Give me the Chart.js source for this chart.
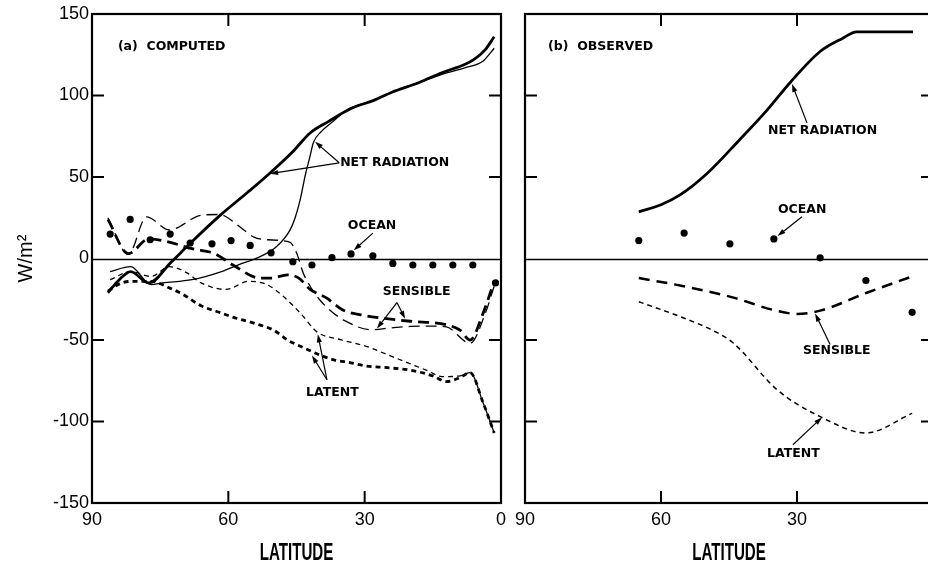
<!DOCTYPE html>
<html><head><meta charset="utf-8">
<script src="https://cdn.jsdelivr.net/npm/chart.js@4"></script>
<style>
html,body{margin:0;padding:0;overflow:hidden;background:#fff;width:928px;height:567px;}
#ca{position:absolute;left:0;top:0;}
#cb{position:absolute;left:505px;top:0;}
</style></head><body>
<canvas id="ca" width="520" height="567"></canvas>
<canvas id="cb" width="455" height="567"></canvas>
<script>
// ---------- axis ticks ----------
const latTicks = [90, 60, 30, 0];
const fluxTicks = [-150, -100, -50, 0, 50, 100, 150];
const innerLatTicks = [60, 30];
const innerFluxTicks = [100, 50, -50, -100];
const xTitle = 'LATITUDE';
const yTitle = 'W/m²';

// ---------- (a) COMPUTED ----------
const netRadA_lat = [86.5, 84, 81.5, 77.5, 72.5, 68.5, 62, 56, 51, 46, 42, 38, 33, 28, 24, 18, 13, 8, 6, 3.5, 1.5];
const netRadA_val = [-21, -13, -8, -15, -2, 9, 26, 40, 52, 65, 77, 84, 92, 97, 102, 108, 114, 119, 122, 128, 136];

const netRadB_lat = [86, 81.5, 77, 74.5, 68, 61.5, 57, 53.5, 49.5, 46.4, 45.3, 44.2, 43, 42, 41.3, 39.5, 37, 34, 28, 24, 18, 13, 8, 4, 1.5];
const netRadB_val = [-8, -5, -16, -15, -13, -8, -3, 0.5, 7, 17.6, 25, 36, 52, 63, 71, 78, 84, 91, 97, 102, 108, 113, 117, 121, 129];

const sensA_lat = [86.5, 82, 77.5, 73, 68, 63, 59, 53, 50.5, 47, 44.5, 42, 38.5, 34.8, 30, 26, 20, 12, 9, 6.8, 4, 1.5];
const sensA_val = [24, 3, 12, 10, 6, 3, -4, -12, -12, -10, -12, -19, -24, -31.6, -35, -36.6, -38.5, -40.7, -44, -50, -34, -14];

const sensB_lat = [86.5, 82, 78, 73, 66, 62, 57.5, 54.5, 51.5, 46.5, 45, 43.5, 42, 40, 37.5, 34.5, 28.5, 24, 20, 15, 12, 6.8, 3.5, 1.5];
const sensB_val = [25, 2.5, 25.5, 17.5, 26.5, 27, 19.5, 13.3, 11.5, 10, 3.5, -9, -17, -25, -32, -38, -43.7, -42.5, -41.7, -41.5, -42, -52, -34, -17];

const latentA_lat = [86.5, 83.5, 80.5, 77, 73, 70, 66, 62, 59, 54, 50, 47, 44, 40, 37, 33, 29.5, 25, 20, 15, 12, 9, 6.8, 4, 1.5];
const latentA_val = [-20, -15, -14, -14, -18, -22, -29, -33, -36, -40, -44, -50, -54, -59, -62, -64, -66, -67, -68.5, -72, -75.5, -73, -70, -88, -107];

const latentB_lat = [86, 81.5, 77, 73, 69, 66, 60.5, 55.5, 51.5, 48, 44, 40.5, 35, 29.5, 25, 20.5, 16, 13, 9, 6.8, 4, 1.5];
const latentB_val = [-13, -8, -11, -5, -9, -15, -19, -14, -16, -23, -34, -45, -50, -54, -59, -64, -69, -72.5, -72, -70, -88, -107];

const oceanA_lat = [86, 81.6, 77.2, 72.8, 68.4, 63.6, 59.4, 55.2, 50.6, 45.8, 41.6, 37.2, 33, 28.2, 23.8, 19.4, 15, 10.6, 6.2, 1.2];
const oceanA_val = [15, 24, 11.5, 15, 9.5, 9, 11, 8, 3.5, -2, -4, 0.5, 2.8, 1.7, -3, -4, -4, -4, -4, -15];

// ---------- (b) OBSERVED ----------
const netObs_lat = [64.9, 60, 55.8, 49.9, 42.6, 36.6, 31.5, 24.9, 20, 16.8, 10, 4.4];
const netObs_val = [28.6, 33, 39, 52, 73, 91, 108, 127, 135, 139, 139, 139];

const oceanObs_lat = [64.9, 54.9, 44.8, 35.1, 24.9, 14.8, 4.6];
const oceanObs_val = [11, 15.6, 9, 12, 0.4, -13.5, -33];

const sensObs_lat = [64.9, 55, 44, 35.3, 30, 24.9, 14.6, 4.6];
const sensObs_val = [-12, -17, -24, -31.5, -34, -32, -21, -11];

const latentObs_lat = [64.9, 55, 47.6, 44, 34.4, 24.9, 14.8, 4.6];
const latentObs_val = [-26.5, -36.5, -45.5, -52, -80.5, -97, -107, -95];

// ---------- annotation texts (data coordinates: lat, value) ----------
const notesA = [
  {text: '(a)  COMPUTED', at: [84.3, 130], arrows: []},
  {text: 'NET RADIATION', at: [35.4, 58.7], arrows: [[35.6, 58.7, 50.8, 52], [35.6, 58.7, 40.9, 71.6]]},
  {text: 'OCEAN', at: [33.7, 20], arrows: [[28.2, 15.6, 32.4, 5]]},
  {text: 'SENSIBLE', at: [26, -20.5], arrows: [[22.9, -27, 27.3, -43], [22.9, -27, 21.1, -37]]},
  {text: 'LATENT', at: [42.9, -82.4], arrows: [[38.3, -74.4, 41.6, -59.5], [38.3, -74.4, 40.3, -46.5]]}
];
const notesB = [
  {text: '(b)  OBSERVED', at: [84.9, 130], arrows: []},
  {text: 'NET RADIATION', at: [36.4, 78.3], arrows: [[27.8, 83.2, 31.1, 107]]},
  {text: 'OCEAN', at: [34.2, 29.9], arrows: [[28.9, 25.6, 34.3, 13.8]]},
  {text: 'SENSIBLE', at: [28.7, -56.6], arrows: [[22.7, -52.8, 26, -33.8]]},
  {text: 'LATENT', at: [36.6, -119.8], arrows: [[30.9, -114.3, 24.5, -97.5]]}
];

function pts(lat, val) { return lat.map((l, i) => ({x: l, y: val[i]})); }

const STY = {
  thickSolid: {borderWidth: 2.8, borderDash: []},
  thinSolid: {borderWidth: 1.3, borderDash: []},
  thickLong: {borderWidth: 2.8, borderDash: [11, 6]},
  thinLong: {borderWidth: 1.3, borderDash: [11, 6]},
  thickShort: {borderWidth: 2.8, borderDash: [5, 4]},
  thinShort: {borderWidth: 1.3, borderDash: [5, 4]},
  obsLong: {borderWidth: 2.5, borderDash: [11, 7]},
  obsShort: {borderWidth: 1.5, borderDash: [5, 4]}
};

function lineDS(label, lat, val, sty) {
  return Object.assign({
    label, data: pts(lat, val), borderColor: '#000', backgroundColor: '#000',
    pointRadius: 0, fill: false, cubicInterpolationMode: 'monotone'
  }, sty);
}
function dotDS(label, lat, val) {
  return {label, data: pts(lat, val), showLine: false, pointRadius: 3.6,
    pointBackgroundColor: '#000', pointBorderColor: '#000', pointBorderWidth: 0};
}

const deco = {
  id: 'deco',
  beforeDatasetsDraw(chart) {
    const {ctx, chartArea: ca, scales: {y}} = chart;
    ctx.save();
    ctx.strokeStyle = '#000'; ctx.lineWidth = 1.5;
    const y0 = Math.round(y.getPixelForValue(0)) + 0.5;
    ctx.beginPath(); ctx.moveTo(ca.left, y0); ctx.lineTo(ca.right, y0); ctx.stroke();
    ctx.restore();
  },
  afterDatasetsDraw(chart, args, o) {
    const {ctx, chartArea: ca, scales: {x, y}} = chart;
    ctx.save();
    ctx.strokeStyle = '#000'; ctx.fillStyle = '#000';
    ctx.lineWidth = 2.2;
    ctx.strokeRect(ca.left, ca.top, ca.right - ca.left, ca.bottom - ca.top);
    const L = 12;
    ctx.lineWidth = 2;
    ctx.beginPath();
    innerFluxTicks.forEach(v => {
      const p = y.getPixelForValue(v);
      ctx.moveTo(ca.left, p); ctx.lineTo(ca.left + L, p);
      ctx.moveTo(ca.right, p); ctx.lineTo(ca.right - L, p);
    });
    innerLatTicks.forEach(v => {
      const p = x.getPixelForValue(v);
      ctx.moveTo(p, ca.top); ctx.lineTo(p, ca.top + L);
      ctx.moveTo(p, ca.bottom); ctx.lineTo(p, ca.bottom - L);
    });
    ctx.stroke();
    // condensed axis title under the x axis
    ctx.save();
    ctx.font = 'bold 24px "Liberation Sans", Arial, sans-serif';
    ctx.textAlign = 'center'; ctx.textBaseline = 'middle';
    ctx.translate((x.left + x.right) / 2, ca.bottom + 50);
    ctx.scale(0.63, 1);
    ctx.fillText(xTitle, 0, 0);
    ctx.restore();
    // annotations
    ctx.font = 'bold 12.5px "DejaVu Sans", sans-serif';
    ctx.textBaseline = 'middle'; ctx.textAlign = 'left';
    (o.notes || []).forEach(n => {
      ctx.fillText(n.text, x.getPixelForValue(n.at[0]), y.getPixelForValue(n.at[1]));
      n.arrows.forEach(a => {
        const x1 = x.getPixelForValue(a[0]), y1 = y.getPixelForValue(a[1]);
        const x2 = x.getPixelForValue(a[2]), y2 = y.getPixelForValue(a[3]);
        const ang = Math.atan2(y2 - y1, x2 - x1);
        ctx.lineWidth = 1.2;
        ctx.beginPath(); ctx.moveTo(x1, y1); ctx.lineTo(x2 - 5 * Math.cos(ang), y2 - 5 * Math.sin(ang)); ctx.stroke();
        ctx.beginPath();
        ctx.moveTo(x2, y2);
        ctx.lineTo(x2 - 8 * Math.cos(ang) + 2.6 * Math.sin(ang), y2 - 8 * Math.sin(ang) - 2.6 * Math.cos(ang));
        ctx.lineTo(x2 - 8 * Math.cos(ang) - 2.6 * Math.sin(ang), y2 - 8 * Math.sin(ang) + 2.6 * Math.cos(ang));
        ctx.closePath(); ctx.fill();
      });
    });
    ctx.restore();
  }
};

const tickFont = {family: '"Liberation Sans", Arial, sans-serif', size: 18};

function xAxis() {
  return {
    type: 'linear', min: 0, max: 90, reverse: true,
    afterBuildTicks: s => { s.ticks = latTicks.map(v => ({value: v})); },
    afterFit: s => { s.height = 64; },
    grid: {display: false, drawTicks: false},
    border: {display: false},
    ticks: {color: '#000', font: tickFont, padding: 6, maxRotation: 0, autoSkip: false},
    title: {display: false}
  };
}

Chart.defaults.animation = false;

new Chart(document.getElementById('ca'), {
  type: 'line',
  data: {datasets: [
    lineDS('Net radiation (1)', netRadA_lat, netRadA_val, STY.thickSolid),
    lineDS('Net radiation (2)', netRadB_lat, netRadB_val, STY.thinSolid),
    lineDS('Sensible (1)', sensA_lat, sensA_val, STY.thickLong),
    lineDS('Sensible (2)', sensB_lat, sensB_val, STY.thinLong),
    lineDS('Latent (1)', latentA_lat, latentA_val, STY.thickShort),
    lineDS('Latent (2)', latentB_lat, latentB_val, STY.thinShort),
    dotDS('Ocean', oceanA_lat, oceanA_val)
  ]},
  options: {
    responsive: false, devicePixelRatio: 1, animation: false,
    layout: {padding: {left: 0, top: 14, right: 19, bottom: 0}},
    plugins: {legend: {display: false}, tooltip: {enabled: false}, deco: {notes: notesA}},
    scales: {
      x: xAxis(),
      y: {
        type: 'linear', min: -150, max: 150,
        afterBuildTicks: s => { s.ticks = fluxTicks.map(v => ({value: v})); },
        afterFit: s => { s.width = 92; },
        grid: {display: false, drawTicks: false},
        border: {display: false},
        ticks: {color: '#000', font: tickFont, padding: 3},
        title: {display: true, text: yTitle, color: '#000', font: {family: '"Liberation Sans", Arial, sans-serif', size: 20}, padding: {top: 14, bottom: 0}}
      }
    }
  },
  plugins: [deco]
});

new Chart(document.getElementById('cb'), {
  type: 'line',
  data: {datasets: [
    lineDS('Net radiation', netObs_lat, netObs_val, STY.thickSolid),
    lineDS('Sensible', sensObs_lat, sensObs_val, STY.obsLong),
    lineDS('Latent', latentObs_lat, latentObs_val, STY.obsShort),
    dotDS('Ocean', oceanObs_lat, oceanObs_val)
  ]},
  options: {
    responsive: false, devicePixelRatio: 1, animation: false,
    layout: {padding: {left: 20, top: 14, right: 27, bottom: 0}},
    plugins: {legend: {display: false}, tooltip: {enabled: false}, deco: {notes: notesB}},
    scales: {
      x: xAxis(),
      y: {type: 'linear', min: -150, max: 150, display: false}
    }
  },
  plugins: [deco]
});
</script>
</body></html>
